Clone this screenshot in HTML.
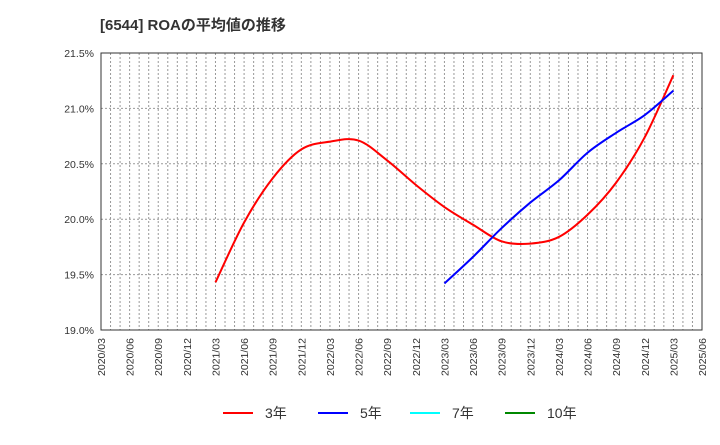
<!DOCTYPE html>
<html><head><meta charset="utf-8"><style>
body{margin:0;background:#fff;font-family:"Liberation Sans","Noto Sans CJK JP",sans-serif;}
</style></head><body>
<svg id="c" width="720" height="440" xmlns="http://www.w3.org/2000/svg">
<text x="100" y="30" font-size="15" font-weight="bold" fill="#333" font-family="Liberation Sans,Noto Sans CJK JP,sans-serif">[6544]  ROAの平均値の推移</text>
<g id="grid"></g><g id="axes"></g><g id="series"></g>
<g id="legend" font-size="14" fill="#333" font-family="Liberation Sans,Noto Sans CJK JP,sans-serif"></g>
</svg>
<script>
const xLabels=["2020/03","2020/06","2020/09","2020/12","2021/03","2021/06","2021/09","2021/12","2022/03","2022/06","2022/09","2022/12","2023/03","2023/06","2023/09","2023/12","2024/03","2024/06","2024/09","2024/12","2025/03","2025/06"];
const yTicks=[19.0,19.5,20.0,20.5,21.0,21.5];
const red3Start=4;
const red3=[19.43,19.97,20.37,20.63,20.70,20.71,20.53,20.31,20.11,19.95,19.80,19.78,19.84,20.04,20.33,20.74,21.30];
const blue5Start=12;
const blue5=[19.42,19.66,19.92,20.15,20.35,20.60,20.78,20.94,21.16];
const legendItems=[["3年","#f00"],["5年","#00f"],["7年","#0ff"],["10年","#080"]];
const L=101,R=702,T=53,B=330;
const NS="http://www.w3.org/2000/svg";
const xs=i=>L+i*(R-L)/(xLabels.length-1);
const ys=v=>B-(v-19.0)/(21.5-19.0)*(B-T);
function mk(tag,at,parent){const e=document.createElementNS(NS,tag);for(const k in at)e.setAttribute(k,at[k]);parent.appendChild(e);return e;}
const grid=document.getElementById('grid'),axes=document.getElementById('axes'),ser=document.getElementById('series'),leg=document.getElementById('legend');
for(let m=1;m<(xLabels.length-1)*3;m++){const x=L+m*(R-L)/((xLabels.length-1)*3);
const g=mk('line',{x1:x,x2:x,y1:T,y2:B,stroke:'#999','stroke-dasharray':'2,2'},grid);

}
yTicks.forEach(v=>{const y=ys(v);
const g=mk('line',{x1:L,x2:R,y1:y,y2:y,stroke:'#999','stroke-dasharray':'2,2'},grid);


const t=mk('text',{x:L-7,y:y+4,'text-anchor':'end','font-size':10.5,fill:'#333'},axes);t.textContent=v.toFixed(1)+'%';

});
const fr=mk('rect',{x:L,y:T,width:R-L,height:B-T,fill:'none',stroke:'#333'},axes);


xLabels.forEach((s,i)=>{const x=xs(i);
const t=mk('text',{x:x+4,y:B+8,'text-anchor':'end','font-size':10.5,fill:'#333',transform:`rotate(-90 ${x+4} ${B+8})`},axes);t.textContent=s;

});
function path(vals,start){const p=vals.map((v,i)=>[xs(start+i),ys(v)]);let d=`M${p[0][0]},${p[0][1]}`;
for(let i=0;i<p.length-1;i++){const p0=p[Math.max(0,i-1)],p1=p[i],p2=p[i+1],p3=p[Math.min(p.length-1,i+2)];
d+=` C${p1[0]+(p2[0]-p0[0])/6},${p1[1]+(p2[1]-p0[1])/6} ${p2[0]-(p3[0]-p1[0])/6},${p2[1]-(p3[1]-p1[1])/6} ${p2[0]},${p2[1]}`;}return d;}
const r=mk('path',{d:path(red3,red3Start),fill:'none',stroke:'#f00','stroke-width':2},ser);


const b=mk('path',{d:path(blue5,blue5Start),fill:'none',stroke:'#00f','stroke-width':2},ser);


const lx=[223,318,410,505];
legendItems.forEach((it,i)=>{const g=mk('g',{},leg);


mk('line',{x1:lx[i],x2:lx[i]+30,y1:413,y2:413,stroke:it[1],'stroke-width':2},g);
const t=mk('text',{x:lx[i]+42,y:418},g);t.textContent=it[0];});
</script>
</body></html>
